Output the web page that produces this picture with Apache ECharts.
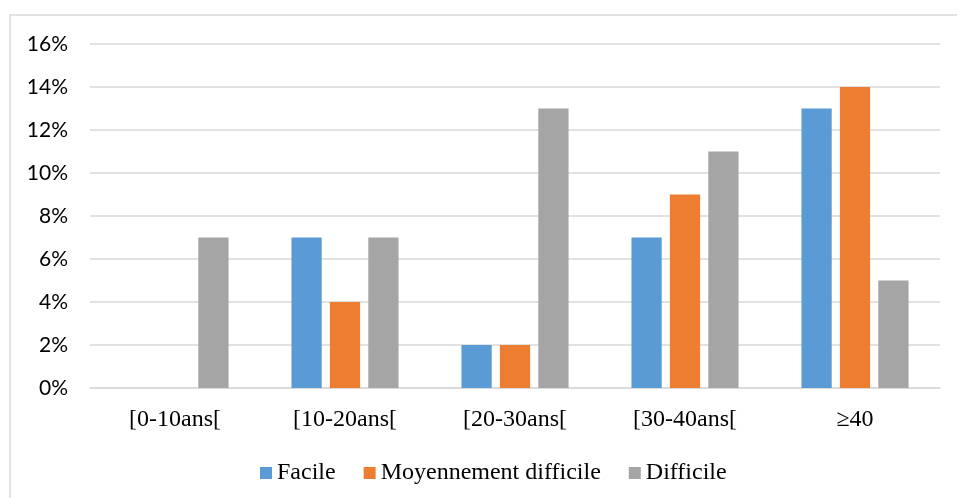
<!DOCTYPE html>
<html>
<head>
<meta charset="utf-8">
<style>
  html, body { margin: 0; padding: 0; background: #ffffff; }
  #chart { width: 957px; height: 498px; }
</style>
<script src="https://cdn.jsdelivr.net/npm/echarts@6/dist/echarts.min.js"></script>
</head>
<body>
<div id="chart"></div>
<script>
// Age groups on the x axis
const categories = ['[0-10ans[', '[10-20ans[', '[20-30ans[', '[30-40ans[', '≥40'];

// Share of patients (in %) per difficulty level
const facile = [0, 7, 2, 7, 13];
const moyennementDifficile = [0, 4, 2, 9, 14];
const difficile = [7, 7, 13, 11, 5];

const seriesNames = ['Facile', 'Moyennement difficile', 'Difficile'];
const seriesColors = ['#5B9BD5', '#ED7D31', '#A5A5A5'];

// y axis: 0% to 16% in steps of 2%
const yMin = 0;
const yMax = 16;
const yStep = 2;

const serif = '"Liberation Serif", "Times New Roman", serif';
const sans = 'Lato, "Liberation Sans", sans-serif';

const chart = echarts.init(document.getElementById('chart'), null, { renderer: 'canvas' });

const values = [facile, moyennementDifficile, difficile];

chart.setOption({
  animation: false,
  backgroundColor: '#ffffff',
  graphic: [{
    type: 'rect',
    shape: { x: 10, y: 15, width: 980, height: 520 },
    style: { fill: 'none', stroke: '#D9D9D9', lineWidth: 1.5 },
    silent: true,
    z: -1
  }],
  grid: { left: 90, right: 17, top: 44, bottom: 110 },
  legend: {
    left: 255,
    top: 456,
    itemWidth: 12,
    itemHeight: 12,
    itemGap: 28,
    icon: 'rect',
    textStyle: { fontFamily: serif, fontSize: 24, color: '#000000' },
    data: seriesNames
  },
  xAxis: {
    type: 'category',
    data: categories,
    axisLine: { lineStyle: { color: '#D9D9D9', width: 1.5 } },
    axisTick: { show: false },
    axisLabel: { fontFamily: serif, fontSize: 24, color: '#000000', margin: 20 },
    splitLine: { show: false }
  },
  yAxis: {
    type: 'value',
    min: yMin,
    max: yMax,
    interval: yStep,
    axisLine: { show: false },
    axisTick: { show: false },
    axisLabel: {
      fontFamily: sans,
      fontSize: 21,
      color: '#000000',
      margin: 22,
      formatter: v => v + '%'
    },
    splitLine: { lineStyle: { color: '#D9D9D9', width: 1.5 } }
  },
  series: seriesNames.map((name, i) => ({
    name: name,
    type: 'bar',
    data: values[i],
    barGap: '27%',
    barCategoryGap: '37%',
    itemStyle: { color: seriesColors[i] }
  }))
});
</script>
</body>
</html>
